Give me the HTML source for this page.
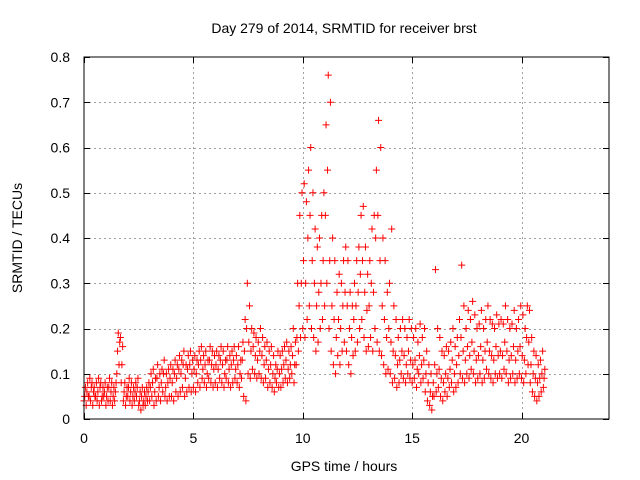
<!DOCTYPE html>
<html><head><meta charset="utf-8"><style>
body{margin:0;background:#fff;}
svg{display:block;font-family:"Liberation Sans",sans-serif;}
</style></head><body>
<svg id="chart" width="640" height="480">
<text x="344" y="33" font-size="14" text-anchor="middle">Day 279 of 2014, SRMTID for receiver brst</text>
<text x="22" y="238" font-size="14" text-anchor="middle" transform="rotate(-90 22 238)">SRMTID / TECUs</text>
<text x="344" y="471" font-size="14" text-anchor="middle">GPS time / hours</text>
<g id="grid"></g>
<g id="ticks"></g>
<g id="points"></g>
<rect x="84" y="57" width="525" height="362" fill="none" stroke="#000" stroke-width="1"/>
</svg>
<script>
const xTicks=[0,5,10,15,20];
const yTicks=[0,0.1,0.2,0.3,0.4,0.5,0.6,0.7,0.8];
const yTickLabels=["0","0.1","0.2","0.3","0.4","0.5","0.6","0.7","0.8"];
const timeStep=0.1;
const lo=[4,3,5,4,3,5,4,3,4,5,3,4,4,3,4,10,12,8,4,3,5,4,3,4,5,3,2,3,3,4,
4,5,3,4,5,4,6,5,4,5,5,4,6,5,6,7,5,6,7,6,7,6,8,7,9,8,7,9,8,7,8,7,9,8,7,9,8,7,8,9,
8,7,9,5,4,10,9,11,10,9,10,9,8,9,7,8,7,6,8,7,7,8,9,8,9,10,8,12,15,18,
20,18,22,25,20,18,15,17,20,22,25,30,20,15,12,10,14,12,15,17,15,12,10,14,15,17,20,22,18,15,
16,18,15,20,17,15,14,12,10,11,10,8,9,7,8,10,9,8,10,9,8,9,7,10,8,9,6,4,3,2,
5,6,7,5,4,6,5,7,8,6,7,8,10,9,8,10,9,11,10,8,9,10,8,9,11,10,9,8,10,9,
10,9,11,10,8,9,10,8,9,10,9,8,10,12,8,6,5,4,5,6,7];
const mid=[5,6,5,7,6,5,6,7,5,6,5,7,6,5,6,15,17,12,6,5,7,6,5,6,7,4,5,4,5,6,
7,8,6,9,7,8,10,7,8,9,8,10,9,11,10,12,9,11,12,10,11,10,12,13,11,12,10,13,12,11,12,11,13,12,10,13,11,12,13,11,
12,10,13,15,20,17,15,16,14,13,15,14,12,13,11,12,10,9,11,10,11,12,13,11,12,14,12,18,25,30,
35,30,40,45,35,30,25,28,30,35,45,55,35,25,22,18,22,20,25,28,25,20,18,22,25,28,32,35,28,24,
25,30,28,40,45,35,25,22,18,20,17,15,14,12,13,15,14,12,15,13,12,13,11,14,12,13,10,8,6,5,
12,10,11,9,8,10,9,11,13,10,12,14,18,15,13,16,14,17,15,13,14,16,13,15,17,15,14,13,16,14,
15,14,17,15,13,14,16,13,15,16,14,13,18,17,12,10,9,8,9,10,9];
const hi=[7,8,9,8,7,8,9,8,7,8,7,9,8,7,8,19,18,16,8,7,9,8,7,8,9,6,7,6,7,8,
10,11,9,12,10,11,13,10,11,12,11,13,12,14,13,15,12,14,15,13,14,13,15,16,14,15,13,16,15,14,15,14,16,15,13,16,14,15,16,14,
16,13,17,22,30,25,20,19,18,17,20,18,16,17,15,16,14,12,15,14,15,16,17,15,16,20,17,30,45,50,
52,48,55,60,50,42,38,40,45,50,65,76,70,40,35,28,32,30,35,38,35,28,25,30,35,38,45,47,38,32,
35,42,45,55,66,60,40,35,28,30,42,25,22,18,20,22,20,18,22,20,18,20,17,21,18,20,15,12,10,8,
33,20,18,15,14,16,15,17,20,16,18,22,34,25,20,24,22,26,23,20,21,24,20,22,25,22,21,20,23,21,
22,21,25,22,20,21,24,20,22,25,23,20,25,24,18,15,14,12,13,15,11];
const NS="http://www.w3.org/2000/svg";
const X0=84,X1=609,Y0=419,Y1=57,XMAX=24,YMAX=0.8;
function xs(v){return X0+(X1-X0)*v/XMAX;}
function ys(v){return Y0-(Y0-Y1)*v/YMAX;}
const grid=document.getElementById('grid'),ticks=document.getElementById('ticks'),pts=document.getElementById('points');
function line(p,x1,y1,x2,y2,st,dash,name){const l=document.createElementNS(NS,'line');
l.setAttribute('x1',x1);l.setAttribute('y1',y1);l.setAttribute('x2',x2);l.setAttribute('y2',y2);
l.setAttribute('stroke',st);if(dash)l.setAttribute('stroke-dasharray',dash);


p.appendChild(l);}
function txt(s,x,y,anchor,name){const t=document.createElementNS(NS,'text');t.setAttribute('x',x);t.setAttribute('y',y);
t.setAttribute('font-size','14');t.setAttribute('text-anchor',anchor);t.textContent=s;


ticks.appendChild(t);}
xTicks.forEach(v=>{const x=Math.round(xs(v))+0.5;
 if(v>0)line(grid,x,Y1,x,Y0,'#a0a0a0','2,3','x-gridline');
 line(ticks,x,Y0,x,Y0-6,'#000',null,'x-tick');line(ticks,x,Y1,x,Y1+6,'#000',null,'x-tick');
 txt(String(v),xs(v),Y0+24,'middle','x-tick-label');});
yTicks.forEach((v,i)=>{const y=Math.round(ys(v))+0.5;
 if(v>0&&v<0.8)line(grid,X0,y,X1,y,'#a0a0a0','2,3','y-gridline');
 line(ticks,X0,y,X0+6,y,'#000',null,'y-tick');line(ticks,X1,y,X1-6,y,'#000',null,'y-tick');
 txt(yTickLabels[i],X0-14,ys(v)+5,'end','y-tick-label');});
function plus(t,v,color){const x=xs(t),y=ys(v);const p=document.createElementNS(NS,'path');
 p.setAttribute('d',`M${x-3.5},${y}h7M${x},${y-3.5}v7`);p.setAttribute('stroke',color);p.setAttribute('stroke-width','1');p.setAttribute('fill','none');
 
 
 pts.appendChild(p);}
[lo,mid,hi].forEach((arr,k)=>{arr.forEach((v,i)=>{plus(i*timeStep+k*0.033,v/100,'#ff0000');});});
</script>
</body></html>
